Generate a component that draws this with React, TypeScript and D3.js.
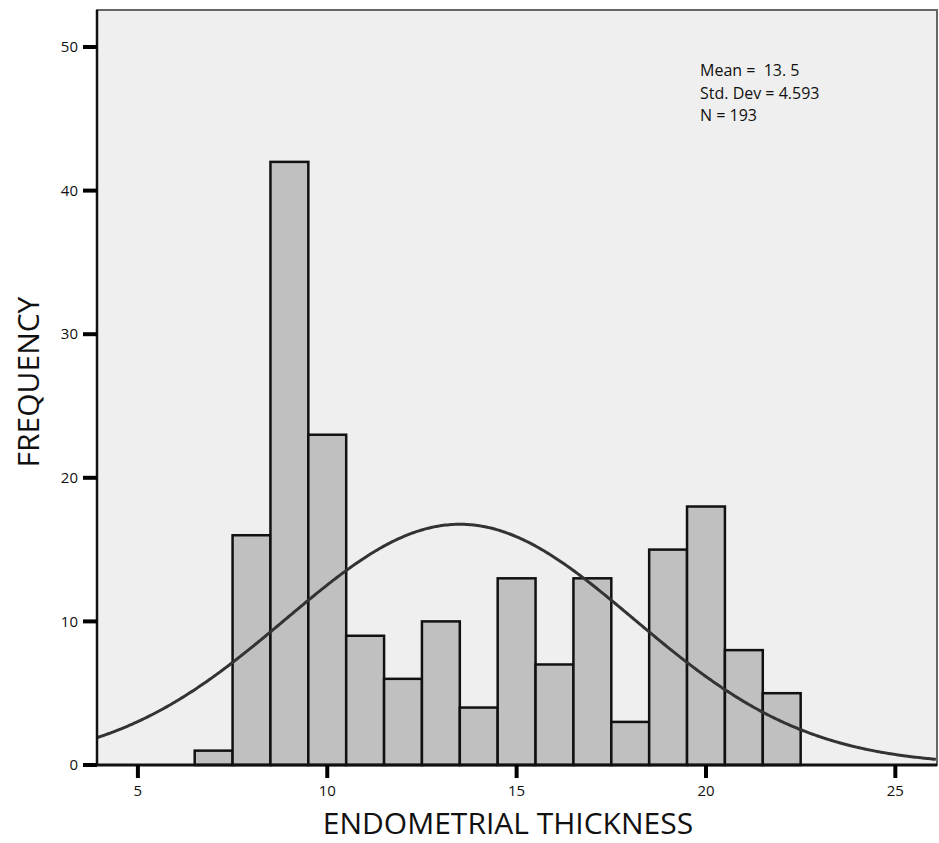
import React from 'react'
import * as d3 from 'd3'

// histogram bins (width 1), centres 7..22
const binStarts = [6.5, 7.5, 8.5, 9.5, 10.5, 11.5, 12.5, 13.5, 14.5, 15.5, 16.5, 17.5, 18.5, 19.5, 20.5, 21.5]
const counts = [1, 16, 42, 23, 9, 6, 10, 4, 13, 7, 13, 3, 15, 18, 8, 5]
const xTicks = [5, 10, 15, 20, 25]
const yTicks = [0, 10, 20, 30, 40, 50]

const MEAN = 13.5
const SD = 4.593
const N = 193
const BIN = 1

const W = 939
const H = 843
const margin = { top: 10, right: 2, bottom: 78, left: 97 }

export default function App() {
  const innerW = W - margin.left - margin.right
  const innerH = H - margin.top - margin.bottom

  const x = d3.scaleLinear().domain([3.92, 26.1]).range([0, innerW])
  const y = d3.scaleLinear().domain([0, 50]).range([innerH, innerH - 718])

  // fitted normal curve from the stats shown in the chart
  const xs = d3.range(3.92, 26.1, 0.05)
  const curve = d3
    .line<number>()
    .x(v => x(v))
    .y(v => y((N * BIN) / (SD * Math.sqrt(2 * Math.PI)) * Math.exp(-0.5 * ((v - MEAN) / SD) ** 2)))
    .curve(d3.curveBasis)

  const font = "'Open Sans', 'Noto Sans', sans-serif"

  return (
    <svg width={W} height={H} style={{ position: 'absolute', left: 0, top: 0, background: '#fff' }}>
      <g transform={`translate(${margin.left},${margin.top})`}>
        <rect x={0} y={0} width={innerW} height={innerH} fill="#efefef" stroke="#666" strokeWidth={2} />

        {counts.map((c, i) => (
          <rect
            key={i}
            x={x(binStarts[i])}
            y={y(c)}
            width={x(binStarts[i] + BIN) - x(binStarts[i])}
            height={innerH - y(c)}
            fill="#c0c0c0"
            stroke="#111"
            strokeWidth={2.5}
          />
        ))}

        <path d={curve(xs) || ''} fill="none" stroke="#333" strokeWidth={3} />

        <line x1={0} x2={0} y1={0} y2={innerH} stroke="#111" strokeWidth={2.5} />
        <line x1={0} x2={innerW} y1={innerH} y2={innerH} stroke="#111" strokeWidth={3} />

        {yTicks.map(t => (
          <g key={t} transform={`translate(0,${y(t)})`}>
            <line x1={-14} x2={0} stroke="#000" strokeWidth={4} />
            <text x={-19} dy="0.35em" textAnchor="end" fontFamily={font} fontSize={15} fill="#111">
              {t}
            </text>
          </g>
        ))}

        {xTicks.map(t => (
          <g key={t} transform={`translate(${x(t)},${innerH})`}>
            <line y1={0} y2={13} stroke="#000" strokeWidth={4} />
            <text y={31} textAnchor="middle" fontFamily={font} fontSize={15} fill="#111">
              {t}
            </text>
          </g>
        ))}

        <g fontFamily={font} fontSize={16} fill="#111">
          <text x={603} y={66} xmlSpace="preserve">{'Mean =  13. 5'}</text>
          <text x={603} y={89}>Std. Dev = 4.593</text>
          <text x={603} y={111}>N = 193</text>
        </g>
      </g>

      <text
        transform={`translate(39,382) rotate(-90)`}
        textAnchor="middle"
        fontFamily={font}
        fontSize={30}
        fill="#111"
      >
        FREQUENCY
      </text>
      <text x={508} y={834} textAnchor="middle" fontFamily={font} fontSize={30} fill="#111">
        ENDOMETRIAL THICKNESS
      </text>
    </svg>
  )
}
